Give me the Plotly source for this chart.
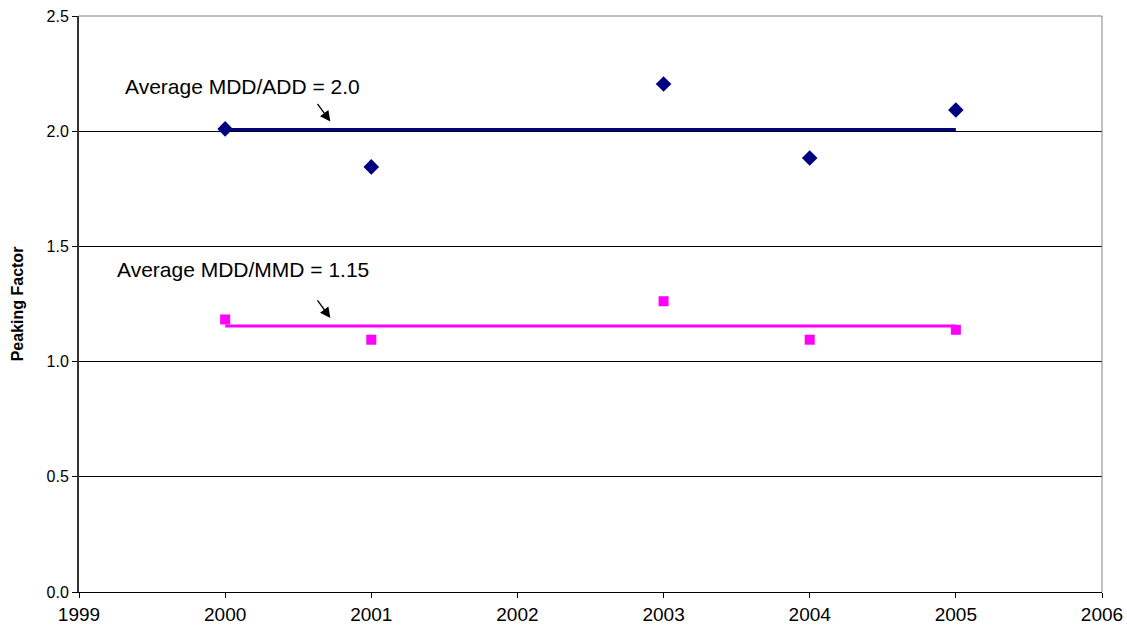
import numpy as np
import plotly.graph_objects as go

# Peaking factors by year
years = [2000, 2001, 2003, 2004, 2005]
mdd_add = [2.01, 1.845, 2.205, 1.884, 2.092]
mdd_mmd = [1.183, 1.095, 1.262, 1.095, 1.138]

x_ticks = [1999, 2000, 2001, 2002, 2003, 2004, 2005, 2006]
y_ticks = [0.0, 0.5, 1.0, 1.5, 2.0, 2.5]

avg_add = float(np.mean(mdd_add))
avg_mmd = float(np.mean(mdd_mmd))
line_x = [years[0], years[-1]]

NAVY = "#000080"
MAGENTA = "#FF00FF"
FONT = "Liberation Sans, Arial, sans-serif"

fig = go.Figure()

# average lines
fig.add_trace(go.Scatter(x=line_x, y=[avg_add, avg_add], mode="lines",
                         line=dict(color=NAVY, width=3), hoverinfo="skip"))
fig.add_trace(go.Scatter(x=line_x, y=[avg_mmd, avg_mmd], mode="lines",
                         line=dict(color=MAGENTA, width=3), hoverinfo="skip"))

# yearly points
fig.add_trace(go.Scatter(x=years, y=mdd_add, mode="markers",
                         marker=dict(symbol="diamond", size=12, color=NAVY)))
fig.add_trace(go.Scatter(x=years, y=mdd_mmd, mode="markers",
                         marker=dict(symbol="square", size=10, color=MAGENTA)))

# labels for the averages
fig.add_annotation(x=1999.30, y=2.192, xref="x", yref="y",
                   text=f"Average MDD/ADD = {avg_add:.1f}", showarrow=False,
                   xanchor="left", yanchor="middle",
                   font=dict(family=FONT, size=21, color="black"))
fig.add_annotation(x=1999.245, y=1.398, xref="x", yref="y",
                   text=f"Average MDD/MMD = {avg_mmd:.2f}", showarrow=False,
                   xanchor="left", yanchor="middle",
                   font=dict(family=FONT, size=21, color="black"))

# pointer arrows
for ay_val in (avg_add + 0.035, avg_mmd + 0.035):
    fig.add_annotation(x=2000.72, y=ay_val, xref="x", yref="y", text="",
                       showarrow=True, arrowhead=2, arrowsize=1.6,
                       arrowwidth=1.3, arrowcolor="black", ax=-14, ay=-19)

# plot frame: gray top and right edges
fig.add_shape(type="line", xref="paper", yref="paper", x0=0, x1=1, y0=1, y1=1,
              line=dict(color="#808080", width=1))
fig.add_shape(type="line", xref="paper", yref="paper", x0=1, x1=1, y0=0, y1=1,
              line=dict(color="#808080", width=1))

fig.update_layout(
    width=1127, height=629,
    margin=dict(l=79, r=25, t=16, b=37),
    paper_bgcolor="white", plot_bgcolor="white",
    showlegend=False,
    font=dict(family=FONT, size=16, color="black"),
    xaxis=dict(range=[1999, 2006], tickvals=x_ticks,
               ticktext=[str(v) for v in x_ticks],
               showgrid=False, zeroline=False, automargin=False,
               showline=True, linecolor="black", linewidth=1,
               ticks="outside", ticklen=5, tickcolor="black",
               tickfont=dict(family=FONT, size=19)),
    yaxis=dict(range=[0, 2.5], tickvals=y_ticks,
               ticktext=[f"{v:.1f}" for v in y_ticks],
               showgrid=True, gridcolor="black", gridwidth=1,
               zeroline=False, automargin=False,
               showline=True, linecolor="#333333", linewidth=2,
               ticks="outside", ticklen=5, tickcolor="black",
               tickfont=dict(family=FONT, size=16),
               title=dict(text="<b>Peaking Factor</b>", standoff=19,
                          font=dict(family=FONT, size=16))),
)

fig.write_html("out.html")
